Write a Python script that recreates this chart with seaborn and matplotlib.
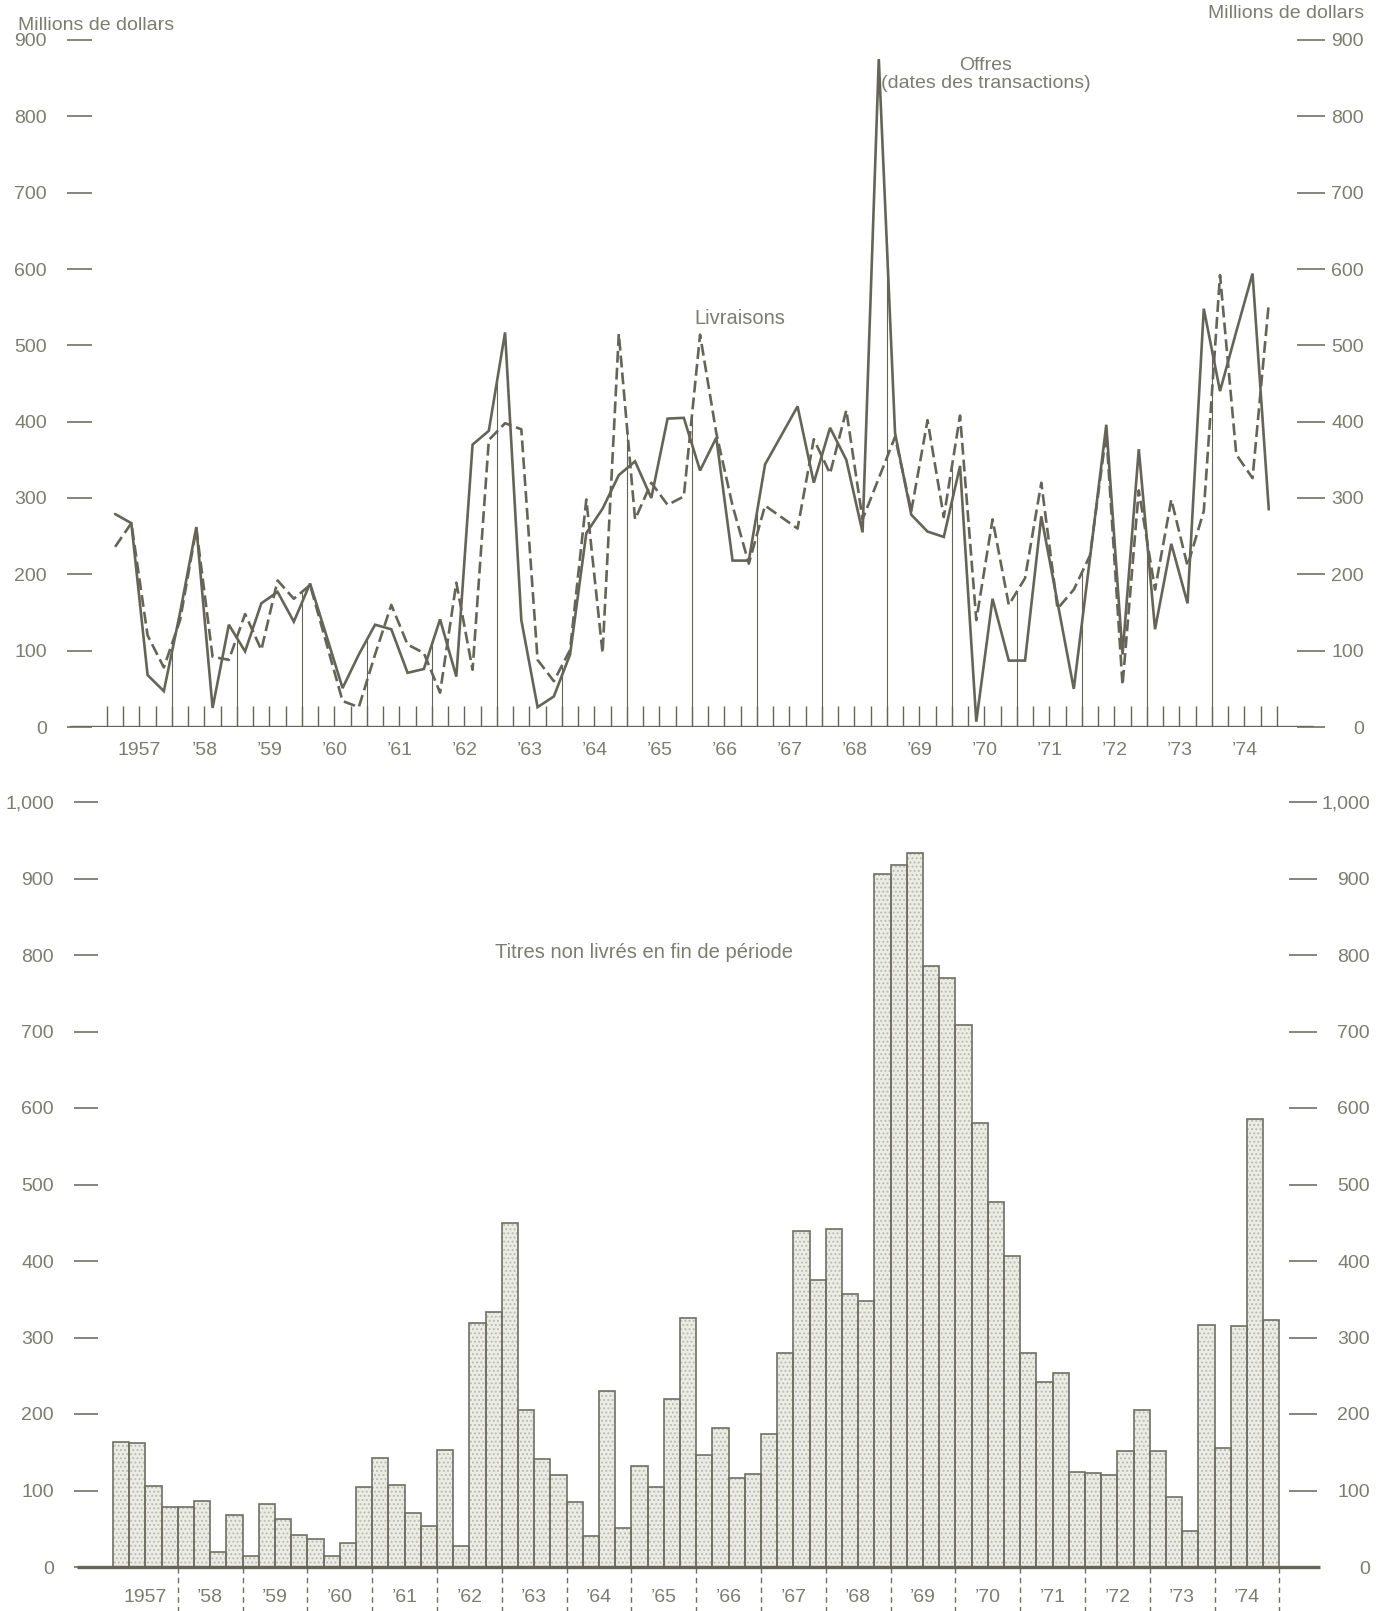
import numpy as np
import pandas as pd
import matplotlib
matplotlib.use("Agg")
import matplotlib.pyplot as plt
from matplotlib.patches import Rectangle
import seaborn as sns

# ---------------------------------------------------------------- data
years = list(range(1957, 1975))
year_labels = ["1957"] + ["\u2019%02d" % (y % 100) for y in years[1:]]

# Offres (dates des transactions), trimestriel, millions de dollars
offres = [279, 267, 68, 47,    150, 262, 25, 134,   99, 162, 177, 138,
          188, 120, 51, 95,    134, 128, 71, 76,    141, 66, 370, 388,
          517, 140, 26, 40,    95, 254, 286, 330,   348, 300, 404, 405,
          336, 379, 218, 218,  344, 382, 420, 320,  392, 350, 255, 875,
          385, 278, 256, 249,  342, 7, 168, 87,     87, 276, 163, 50,
          222, 396, 95, 364,   128, 240, 162, 548,  440, 518, 594, 285]

# Livraisons, trimestriel, millions de dollars
livraisons = [236, 267, 120, 78,   140, 260, 92, 88,    148, 101, 192, 168,
              186, 110, 34, 26,    95, 160, 108, 97,    45, 189, 75, 376,
              398, 390, 88, 60,    101, 298, 97, 515,   272, 320, 291, 302,
              514, 385, 290, 214,  290, 275, 260, 377,  332, 415, 272, 326,
              380, 283, 402, 275,  408, 140, 272, 160,  195, 320, 155, 180,
              225, 385, 55, 310,   180, 298, 211, 283,  592, 357, 326, 555]

# Titres non livres en fin de periode, millions de dollars
titres = [164, 162, 106, 79,   78, 86, 19, 68,     15, 82, 63, 42,
          37, 15, 32, 105,     142, 107, 71, 53,   153, 27, 319, 333,
          450, 205, 141, 120,  85, 41, 230, 51,    132, 104, 219, 325,
          147, 182, 116, 121,  174, 280, 439, 375, 442, 357, 348, 906,
          918, 933, 785, 770,  709, 580, 477, 407, 280, 242, 253, 124,
          123, 120, 151, 205,  151, 92, 47, 316,   155, 315, 586, 323]

top_ticks = list(range(0, 901, 100))
bottom_ticks = list(range(0, 1001, 100))
bottom_tick_labels = [str(v) if v < 1000 else "1,000" for v in bottom_ticks]

# ---------------------------------------------------------------- style
sns.set_theme(style="white")
plt.rcParams["font.family"] = ["Liberation Sans", "DejaVu Sans"]
plt.rcParams["hatch.linewidth"] = 0.9

LINE = "#646557"
TEXT = "#7c7d70"
EDGE = "#6f7063"
FILL = "#ececE6"
DOTS = "#b9bab0"
TICK_FS = 14

W, H = 1389, 1611
fig = plt.figure(figsize=(W / 100, H / 100), dpi=100, facecolor="white")


def px_rect(left, right, top, bottom):
    return [left / W, 1 - bottom / H, (right - left) / W, (bottom - top) / H]


def clean(ax):
    for s in ax.spines.values():
        s.set_visible(False)
    ax.set_facecolor("none")
    ax.grid(False)


q = np.arange(len(offres))

# ============================================================ top panel
ax1 = fig.add_axes(px_rect(67, 1325, 40, 727))
clean(ax1)
top = pd.DataFrame({"trimestre": q, "Offres": offres, "Livraisons": livraisons})
sns.lineplot(data=top, x="trimestre", y="Offres", ax=ax1, color=LINE,
             lw=1.9, solid_joinstyle="miter", zorder=4)
sns.lineplot(data=top, x="trimestre", y="Livraisons", ax=ax1, color=LINE,
             lw=1.9, linestyle=(0, (4.5, 1.9)), zorder=4)
ax1.set_xlim(-2.96, 74.46)
ax1.set_ylim(0, 900)
ax1.set_xlabel("")
ax1.set_ylabel("")

# quarter ticks standing on the base line
bounds = np.arange(-0.5, len(q) + 0.5, 1.0)
ax1.vlines(bounds, 0, 27, color=LINE, lw=1.0, zorder=3)
# year separators rising up to the curves
year_bounds = np.arange(3.5, len(q) - 1, 4.0)
reach = np.maximum(np.interp(year_bounds, q, offres),
                   np.interp(year_bounds, q, livraisons))
ax1.vlines(year_bounds, 0, reach, color=LINE, lw=0.8, zorder=3)
ax1.axhline(0, xmin=3 / 1258, xmax=1246 / 1258, color=LINE, lw=2.4, zorder=5,
            solid_capstyle="butt")

ax1.set_yticks(top_ticks, [str(v) for v in top_ticks])
ax1.tick_params(axis="y", direction="in", length=18, width=1.1, color=LINE,
                pad=14.5, labelsize=TICK_FS, labelcolor=TEXT)
ax1.set_xticks([4 * k + 1.5 for k in range(len(years))], year_labels)
ax1.tick_params(axis="x", length=0, pad=11, labelsize=TICK_FS, labelcolor=TEXT)

ax1r = ax1.twinx()
clean(ax1r)
ax1r.set_ylim(0, 900)
ax1r.set_yticks(top_ticks, [str(v) for v in top_ticks])
ax1r.tick_params(axis="y", direction="in", length=20, width=1.1, color=LINE,
                 pad=28, labelsize=TICK_FS, labelcolor=TEXT)
for lab in ax1r.get_yticklabels():
    lab.set_horizontalalignment("right")

# ========================================================= bottom panel
ax2 = fig.add_axes(px_rect(74, 1317, 802, 1567))
clean(ax2)
bottom = pd.DataFrame({"trimestre": q, "titres": titres})
sns.barplot(data=bottom, x="trimestre", y="titres", ax=ax2, native_scale=True,
            width=1.0, color=FILL, edgecolor=DOTS, linewidth=0, hatch="....",
            saturation=1, errorbar=None, zorder=2)
for p in list(ax2.patches):
    ax2.add_patch(Rectangle(p.get_xy(), p.get_width(), p.get_height(),
                            fill=False, edgecolor=EDGE, lw=1.2, zorder=3))
ax2.set_xlim(-2.907, 73.82)
ax2.set_ylim(0, 1000)
ax2.set_xlabel("")
ax2.set_ylabel("")
ax2.axhline(0, xmin=3 / 1243, xmax=1246 / 1243, color=LINE, lw=2.4, zorder=5,
            solid_capstyle="butt", clip_on=False)
ax2.vlines(np.arange(3.5, len(q) + 0.5, 4.0), -60, 0, color=EDGE, lw=1.0,
           linestyles=(0, (4, 3)), clip_on=False)

ax2.set_yticks(bottom_ticks, bottom_tick_labels)
ax2.tick_params(axis="y", direction="in", length=17, width=1.1, color=LINE,
                pad=14.5, labelsize=TICK_FS, labelcolor=TEXT)
ax2.set_xticks([4 * k + 1.5 for k in range(len(years))], year_labels)
ax2.tick_params(axis="x", length=0, pad=16, labelsize=TICK_FS, labelcolor=TEXT)

ax2r = ax2.twinx()
clean(ax2r)
ax2r.set_ylim(0, 1000)
ax2r.set_yticks(bottom_ticks, bottom_tick_labels)
ax2r.tick_params(axis="y", direction="in", length=20, width=1.1, color=LINE,
                 pad=38, labelsize=TICK_FS, labelcolor=TEXT)
for lab in ax2r.get_yticklabels():
    lab.set_horizontalalignment("right")

# ---------------------------------------------------------------- texts
def ftext(x, y, s, **kw):
    fig.text(x / W, 1 - y / H, s, color=TEXT, va="center", **kw)


ftext(18, 25, "Millions de dollars", fontsize=14, ha="left")
ftext(1364, 13, "Millions de dollars", fontsize=14, ha="right")
ftext(740, 318, "Livraisons", fontsize=14.5, ha="center")
ftext(986, 65, "Offres", fontsize=14, ha="center")
ftext(986, 84, "(dates des transactions)", fontsize=14, ha="center")
ftext(644, 952, "Titres non livr\u00e9s en fin de p\u00e9riode", fontsize=14.5,
      ha="center")

fig.savefig("out.png", dpi=100, facecolor="white")
